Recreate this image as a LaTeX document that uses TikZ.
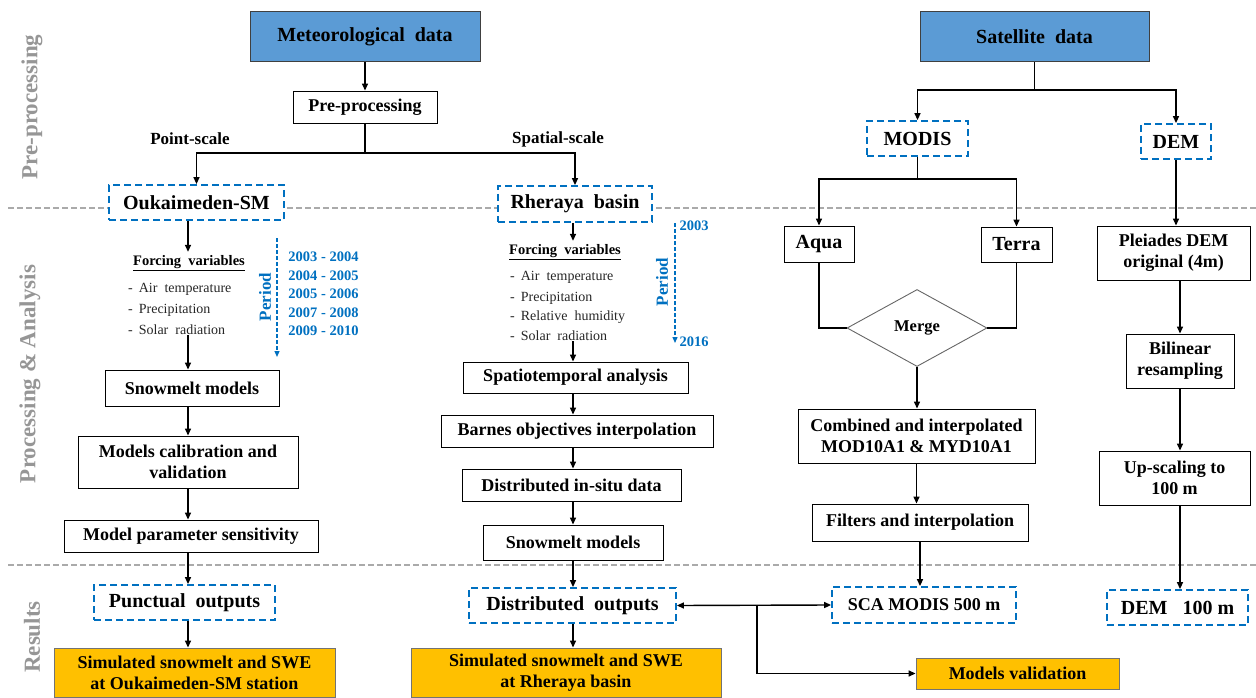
\documentclass[tikz,border=0pt]{standalone}
\usepackage{fontspec}
\setmainfont{Liberation Serif}
\usetikzlibrary{shapes.geometric,arrows.meta}
\definecolor{titleblue}{RGB}{91,155,213}
\definecolor{dashblue}{RGB}{0,112,192}
\definecolor{resyellow}{RGB}{255,192,0}
\definecolor{secgray}{RGB}{150,150,150}
\definecolor{linegray}{RGB}{170,170,170}
\begin{document}
\begin{tikzpicture}[x=1pt,y=-1pt,
  base/.style={rectangle, inner sep=0pt, align=center, font=\fontsize{18}{21}\selectfont\bfseries},
  procbox/.style={base, draw=black, line width=0.9pt, fill=white},
  titlebox/.style={base, draw=black!75, line width=1pt, fill=titleblue, font=\fontsize{20}{24}\selectfont\bfseries},
  dashbox/.style={base, draw=dashblue, line width=1.8pt, dash pattern=on 7pt off 4pt, fill=white, font=\fontsize{20}{24}\selectfont\bfseries},
  resbox/.style={procbox, fill=resyellow, draw=black!55},
  arr/.style={-{Triangle[length=7pt,width=6pt]}, line width=1.4pt},
  biarr/.style={{Triangle[length=7pt,width=6pt]}-{Triangle[length=7pt,width=6pt]}, line width=1.4pt},
  link/.style={line width=1.4pt},
  sep/.style={draw=linegray, line width=1.5pt, dash pattern=on 6pt off 3pt},
  seclabel/.style={rotate=90, text=secgray, font=\fontsize{23}{27}\selectfont\bfseries},
  scalelabel/.style={font=\fontsize{17}{20}\selectfont\bfseries},
  fvtitle/.style={font=\fontsize{14.5}{17}\selectfont\bfseries},
  fvitem/.style={anchor=west, inner sep=0pt, text=black!85, font=\fontsize{14}{16}\selectfont},
  periodarr/.style={draw=dashblue, line width=1.3pt, dash pattern=on 4pt off 2pt, -{Triangle[length=6pt,width=5pt]}},
  periodlabel/.style={rotate=90, text=dashblue, font=\fontsize{17}{20}\selectfont\bfseries},
  years/.style={text=dashblue, align=left, inner sep=0pt, font=\fontsize{14.5}{18.5}\selectfont\bfseries}
]
\useasboundingbox (0,0) rectangle (1256,698);

% separators
\coordinate (s1a) at (8,208); \coordinate (s1b) at (1256,208);
\coordinate (s2a) at (8,565); \coordinate (s2b) at (1256,565);
\draw[sep] (s1a) -- (s1b);
\draw[sep] (s2a) -- (s2b);

% section labels
\node[seclabel] (secpre) at (32,107) {Pre-processing};
\node[seclabel] (secproc) at (30,374) {Processing \& Analysis};
\node[seclabel] (secres) at (32,637) {Results};

% top
\node[titlebox, minimum width=230, minimum height=50] (met) at (365,37) {Meteorological\ \ data};
\node[titlebox, minimum width=229, minimum height=50] (sat) at (1034.5,37) {Satellite\ \ data};
\node[procbox, minimum width=144, minimum height=32] (pre) at (365,107) {Pre-processing};
\node[scalelabel] (ptscale) at (190,139) {Point-scale};
\node[scalelabel] (spscale) at (558,139) {Spatial-scale};
\node[dashbox, minimum width=175, minimum height=35] (ouk) at (196.5,202.5) {Oukaimeden-SM};
\node[dashbox, minimum width=154, minimum height=36] (rhe) at (575,204) {Rheraya\ \ basin};
\node[dashbox, minimum width=101, minimum height=35] (modis) at (917.5,138.5) {MODIS};
\node[dashbox, minimum width=70, minimum height=35] (dem) at (1176,141.5) {DEM};

% left column
\node[fvtitle] (fvL) at (189,263) {\underline{Forcing\ \ variables}};
\node[fvitem] (atL) at (128,289) {-\hspace{6pt}Air\ \ temperature};
\node[fvitem] (prL) at (128,310) {-\hspace{6pt}Precipitation};
\node[fvitem] (srL) at (128,330) {-\hspace{6pt}Solar\ \ radiation};
\coordinate (pL1) at (277,238); \coordinate (pL2) at (277,357);
\node[periodlabel] (perL) at (265,297) {Period};
\node[years] (yrsL) at (323.5,294) {2003 - 2004\\2004 - 2005\\2005 - 2006\\2007 - 2008\\2009 - 2010};
\node[procbox, minimum width=174, minimum height=36] (snowL) at (192,388) {Snowmelt models};
\node[procbox, minimum width=220, minimum height=52] (calib) at (188,462) {Models calibration and\\validation};
\node[procbox, minimum width=254, minimum height=32] (sens) at (191,536) {Model parameter sensitivity};
\node[dashbox, minimum width=181, minimum height=35] (punct) at (184.5,602.5) {Punctual\ \ outputs};
\node[resbox, minimum width=281, minimum height=49] (simL) at (194.5,672.5) {Simulated snowmelt and SWE\\at Oukaimeden-SM station};

% center column
\node[fvtitle] (fvC) at (565,252) {\underline{Forcing\ \ variables}};
\node[fvitem] (atC) at (510,277) {-\hspace{6pt}Air\ \ temperature};
\node[fvitem] (prC) at (510,298) {-\hspace{6pt}Precipitation};
\node[fvitem] (rhC) at (510,317) {-\hspace{6pt}Relative\ \ humidity};
\node[fvitem] (srC) at (510,336) {-\hspace{6pt}Solar\ \ radiation};
\coordinate (pC1) at (675,223); \coordinate (pC2) at (675,343);
\node[periodlabel] (perC) at (662,282) {Period};
\node[years] (y03) at (694,226) {2003};
\node[years] (y16) at (694,342) {2016};
\node[procbox, minimum width=225, minimum height=31] (spatio) at (575.5,377.5) {Spatiotemporal analysis};
\node[procbox, minimum width=272, minimum height=32] (barnes) at (577,431) {Barnes objectives interpolation};
\node[procbox, minimum width=219, minimum height=32] (dist) at (571.5,485) {Distributed in-situ data};
\node[procbox, minimum width=180, minimum height=35] (snowC) at (573,542.5) {Snowmelt models};
\node[dashbox, minimum width=207, minimum height=35] (distout) at (572.5,605.5) {Distributed\ \ outputs};
\node[resbox, minimum width=310, minimum height=49] (simC) at (566,672.5) {Simulated snowmelt and SWE\\at Rheraya basin};

% MODIS column
\node[procbox, minimum width=70, minimum height=36] (aqua) at (819,244) {\fontsize{20}{24}\selectfont Aqua};
\node[procbox, minimum width=71, minimum height=35] (terra) at (1016.5,244.5) {\fontsize{20}{24}\selectfont Terra};
\node[diamond, draw=black!60, line width=0.9pt, fill=white, minimum width=140, minimum height=77, aspect=1.82, inner sep=0pt, font=\fontsize{16.5}{20}\selectfont\bfseries] (merge) at (917,328) {Merge};
\node[procbox, minimum width=237, minimum height=54] (comb) at (916.5,436) {Combined and interpolated\\MOD10A1 \& MYD10A1};
\node[procbox, minimum width=216, minimum height=37] (filt) at (920,522.5) {Filters and interpolation};
\node[dashbox, minimum width=184, minimum height=36, font=\fontsize{18}{21}\selectfont\bfseries] (sca) at (924,605) {SCA MODIS 500 m};
\node[resbox, minimum width=203, minimum height=31] (valid) at (1017.5,673.5) {Models validation};

% DEM column
\node[procbox, minimum width=153, minimum height=54] (plei) at (1173.5,253) {Pleiades DEM\\original (4m)};
\node[procbox, minimum width=108, minimum height=54] (bil) at (1180,361) {Bilinear\\resampling};
\node[procbox, minimum width=151, minimum height=54] (ups) at (1174.5,478) {Up-scaling to\\100 m};
\node[dashbox, minimum width=141, minimum height=35] (dem100) at (1177.5,607.5) {DEM\ \ \ 100 m};

% connectors top
\coordinate (j1) at (365,153);
\draw[arr] (met.south) -- (pre.north);
\draw[link] (pre.south) -- (j1);
\draw[arr] (j1) -| (ouk.north);
\draw[arr] (j1) -| (rhe.north);
\coordinate (js) at (1034.5,90);
\draw[link] (sat.south) -- (js);
\draw[arr] (js) -| (modis.north);
\draw[arr] (js) -| (dem.north);
\coordinate (jm) at (917.5,179);
\draw[link] (modis.south) -- (jm);
\draw[arr] (jm) -| (aqua.north);
\draw[arr] (jm) -| (terra.north);
\draw[link] (aqua.south) |- (merge.west);
\draw[link] (terra.south) |- (merge.east);
\draw[arr] (merge.south) -- (merge.south |- comb.north);
\draw[arr] (comb.south) -- (comb.south |- filt.north);
\draw[arr] (filt.south) -- (filt.south |- sca.north);
\draw[arr] (dem.south) -- (dem.south |- plei.north);
\draw[arr] (bil.north |- plei.south) -- (bil.north);
\draw[arr] (bil.south) -- (bil.south |- ups.north);
\draw[arr] (bil.south |- ups.south) -- (bil.south |- dem100.north);

% left connectors
\draw[arr] (ouk.south -| calib.north) -- (calib.north |- fvL.north);
\draw[periodarr] (pL1) -- (pL2);
\draw[arr] (calib.north |- srL.south) -- (calib.north |- snowL.north);
\draw[arr] (calib.north |- snowL.south) -- (calib.north);
\draw[arr] (calib.south) -- (calib.south |- sens.north);
\draw[arr] (calib.south |- sens.south) -- (calib.south |- punct.north);
\draw[arr] (calib.south |- punct.south) -- (calib.south |- simL.north);

% center connectors
\draw[arr] (rhe.south -| snowC.north) -- (snowC.north |- fvC.north);
\draw[periodarr] (pC1) -- (pC2);
\draw[arr] (snowC.north |- srC.south) -- (snowC.north |- spatio.north);
\draw[arr] (snowC.north |- spatio.south) -- (snowC.north |- barnes.north);
\draw[arr] (snowC.north |- barnes.south) -- (snowC.north |- dist.north);
\draw[arr] (snowC.north |- dist.south) -- (snowC.north);
\draw[arr] (snowC.south) -- (snowC.south |- distout.north);
\draw[arr] (snowC.south |- distout.south) -- (snowC.south |- simC.north);

% bottom connectors
\draw[biarr] (distout.east) -- (sca.west);
\coordinate (br) at (757,605.5);
\draw[arr] (br) |- (valid.west);
\end{tikzpicture}
\end{document}
